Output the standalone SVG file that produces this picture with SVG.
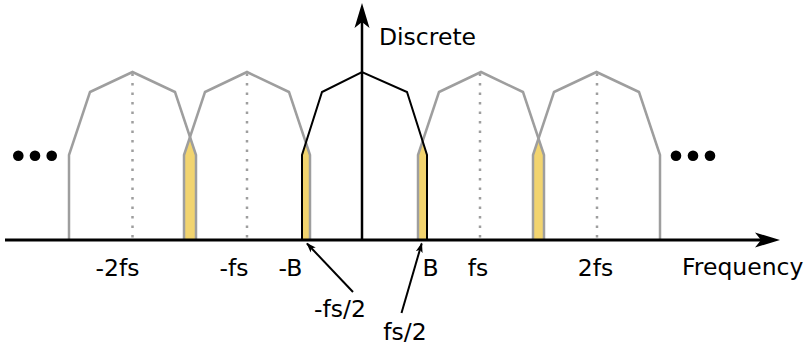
<svg xmlns="http://www.w3.org/2000/svg" width="809" height="346" viewBox="0 0 809 346">
  <style>
    .copy{fill:none;stroke:#9e9e9e;stroke-width:2.5;stroke-linejoin:miter}
    .base{fill:none;stroke:#000;stroke-width:2;stroke-linejoin:miter}
    .dot{stroke:#9e9e9e;stroke-width:2.5;stroke-dasharray:2.5 7}
    .alias{fill:#f2d46f;stroke:none}
    .axis{stroke:#000;stroke-width:3;fill:none}
    .lead{stroke:#000;stroke-width:2;fill:none}
    text{font-family:"DejaVu Sans","Liberation Sans",sans-serif;font-size:23.5px;fill:#000}
    .ell{fill:#000}
  </style>
  <defs>
    <marker id="lh" viewBox="0 0 10 10" refX="9" refY="5" markerWidth="10" markerHeight="10" markerUnits="userSpaceOnUse" orient="auto">
      <path d="M0,1.5 L10,5 L0,8.5 L2.5,5 Z" fill="#000"/>
    </marker>
  </defs>

  <g id="aliasing">
    <polygon class="alias" points="184,240 184,155 190,137 196,155 196,240"/>
    <polygon class="alias" points="302,240 302,155 305.9,142.7 310,155 310,240"/>
    <polygon class="alias" points="418,240 418,155 422.7,141.5 427,155 427,240"/>
    <polygon class="alias" points="533,240 533,155 538.5,138.5 544,155 544,240"/>
  </g>

  <g id="centers">
    <line class="dot" x1="132.5" y1="73.5" x2="132.5" y2="240"/>
    <line class="dot" x1="247" y1="73.5" x2="247" y2="240"/>
    <line class="dot" x1="480" y1="73.5" x2="480" y2="240"/>
    <line class="dot" x1="597" y1="73.5" x2="597" y2="240"/>
  </g>

  <g id="copy-m2fs"><polyline class="copy" points="69,240 69,155 90,92 132.5,72 175,92 196,155 196,240"/></g>
  <g id="copy-mfs"><polyline class="copy" points="184,240 184,155 205,92 247,72 289,92 310,155 310,240"/></g>
  <g id="copy-fs"><polyline class="copy" points="418,240 418,155 439,92 481,72 523,92 544,155 544,240"/></g>
  <g id="copy-2fs"><polyline class="copy" points="533,240 533,155 554,92 596.5,72 639,92 660,155 660,240"/></g>
  <g id="baseband"><polyline class="base" points="302,240 302,155 322,92 362,72 407,92 427,155 427,240"/></g>

  <g id="axes">
    <line class="axis" x1="5" y1="240" x2="764" y2="240"/>
    <path d="M780,240 L755,232.5 L761,240 L755,247.5 Z" fill="#000"/>
    <line class="axis" x1="362" y1="240" x2="362" y2="20" style="stroke-width:2.5"/>
    <path d="M362,3 L369.5,28 L362,22 L354.5,28 Z" fill="#000"/>
  </g>

  <g id="connectors">
    <line class="lead" x1="353" y1="292" x2="307" y2="243.5" marker-end="url(#lh)"/>
    <line class="lead" x1="401.5" y1="313" x2="421.7" y2="243.5" marker-end="url(#lh)"/>
  </g>

  <g id="ellipsis-left">
    <circle class="ell" cx="18.3" cy="155.7" r="5.3"/>
    <circle class="ell" cx="35" cy="155.7" r="5.3"/>
    <circle class="ell" cx="51.7" cy="155.7" r="5.3"/>
  </g>
  <g id="ellipsis-right">
    <circle class="ell" cx="676" cy="155.7" r="5.3"/>
    <circle class="ell" cx="693" cy="155.7" r="5.3"/>
    <circle class="ell" cx="710" cy="155.7" r="5.3"/>
  </g>

  <g id="labels">
    <text x="379" y="45">Discrete</text>
    <text x="682" y="275">Frequency</text>
    <text x="117.5" y="276" text-anchor="middle">-2fs</text>
    <text x="234" y="276" text-anchor="middle">-fs</text>
    <text x="290.5" y="276" text-anchor="middle">-B</text>
    <text x="430.5" y="276" text-anchor="middle">B</text>
    <text x="478" y="276" text-anchor="middle">fs</text>
    <text x="595.5" y="276" text-anchor="middle">2fs</text>
    <text x="340" y="317" text-anchor="middle">-fs/2</text>
    <text x="405" y="340" text-anchor="middle">fs/2</text>
  </g>
</svg>
